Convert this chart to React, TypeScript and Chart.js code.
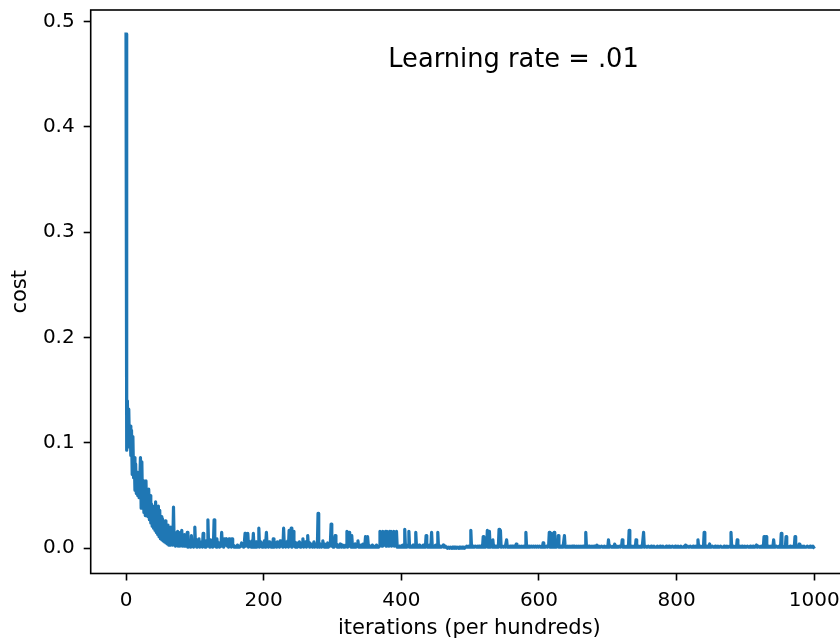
import React, { useEffect, useRef } from "react";
import { Chart, registerables } from "chart.js";

Chart.register(...registerables);

const ITERATION_TICKS = [0, 200, 400, 600, 800, 1000];
const COST_TICKS = [0, 0.1, 0.2, 0.3, 0.4, 0.5];
const X_LABEL = "iterations (per hundreds)";
const Y_LABEL = "cost";
const ANNOTATION = "Learning rate = .01";
const ANNOTATION_AT = { x: 381, y: 0.457 };

// cost recorded every hundred iterations, in thousandths
const COST_THOUSANDTHS = [
  488, 93, 140, 98, 132, 96, 116, 88, 112, 70, 106, 67, 86, 55, 80, 52, 72, 50, 68, 48,
  64, 86, 38, 82, 40, 64, 34, 60, 31, 64, 33, 54, 30, 56, 27, 50, 24, 42, 21, 40,
  19, 38, 17, 44, 15, 34, 13, 40, 11, 36, 9, 30, 8, 28, 7, 25, 6, 26, 5, 20,
  4, 22, 3, 18, 3, 20, 4, 14, 3, 39, 3, 15, 2, 12, 3, 16, 2, 9, 2, 15,
  3, 17, 2, 9, 2, 13, 2, 6, 2, 15, 1, 7, 2, 5, 1, 12, 2, 6, 1, 5,
  20, 2, 8, 1, 5, 3, 9, 1, 4, 2, 6, 1, 14, 2, 5, 1, 7, 3, 2, 27,
  2, 5, 1, 8, 3, 6, 1, 4, 27, 2, 6, 1, 9, 3, 2, 5, 1, 4, 2, 15,
  2, 6, 1, 9, 3, 5, 9, 2, 4, 1, 9, 3, 6, 1, 9, 2, 3, 1, 2, 1,
  2, 1, 3, 1, 2, 1, 2, 3, 5, 2, 4, 1, 6, 14, 2, 5, 3, 14, 1, 6,
  2, 4, 1, 7, 2, 14, 1, 5, 3, 6, 1, 4, 2, 19, 1, 6, 3, 5, 1, 4,
  2, 7, 1, 5, 15, 2, 4, 1, 6, 3, 5, 1, 3, 2, 9, 1, 4, 2, 5, 1,
  6, 2, 4, 1, 7, 3, 2, 5, 1, 19, 2, 6, 1, 4, 3, 7, 1, 17, 2, 5,
  19, 1, 4, 16, 2, 6, 1, 3, 5, 1, 4, 2, 6, 1, 3, 2, 5, 9, 1, 4,
  2, 6, 1, 3, 12, 2, 5, 1, 3, 2, 4, 1, 2, 6, 1, 3, 2, 4, 1, 33,
  3, 1, 4, 2, 1, 3, 7, 2, 1, 4, 2, 1, 3, 5, 1, 2, 4, 6, 23, 2,
  5, 1, 3, 8, 12, 2, 4, 1, 3, 2, 1, 4, 2, 1, 3, 2, 1, 2, 1, 3,
  2, 16, 1, 3, 15, 2, 4, 1, 12, 2, 3, 1, 2, 4, 1, 2, 3, 7, 1, 2,
  1, 3, 2, 1, 4, 2, 1, 3, 11, 2, 1, 11, 3, 1, 2, 1, 2, 1, 3, 1,
  2, 1, 2, 1, 3, 1, 2, 1, 2, 16, 3, 15, 2, 16, 4, 15, 3, 16, 2, 16,
  3, 15, 2, 16, 4, 16, 2, 15, 3, 16, 2, 15, 3, 16, 1, 2, 1, 2, 1, 1,
  2, 1, 3, 1, 2, 18, 1, 2, 1, 3, 2, 16, 1, 2, 1, 2, 1, 3, 1, 2,
  1, 15, 2, 1, 2, 1, 3, 1, 2, 1, 2, 1, 3, 1, 2, 1, 12, 2, 1, 2,
  1, 3, 1, 2, 15, 1, 2, 1, 2, 1, 3, 1, 2, 15, 1, 2, 1, 2, 1, 1,
  2, 3, 1, 1, 2, 1, 1, 0, 1, 1, 0, 1, 1, 0, 1, 0, 1, 1, 0, 1,
  0, 1, 1, 0, 1, 0, 1, 0, 1, 1, 0, 1, 0, 1, 1, 2, 1, 1, 2, 1,
  2, 17, 1, 2, 1, 2, 1, 1, 2, 1, 1, 2, 1, 2, 1, 1, 2, 1, 1, 11,
  1, 2, 1, 1, 2, 17, 1, 2, 16, 1, 1, 2, 1, 8, 1, 2, 1, 1, 2, 1,
  2, 1, 18, 2, 17, 1, 1, 2, 1, 1, 2, 1, 1, 8, 1, 2, 1, 1, 2, 1,
  1, 2, 1, 1, 2, 1, 1, 4, 1, 2, 1, 1, 2, 1, 1, 2, 1, 1, 2, 1,
  1, 15, 1, 2, 1, 1, 2, 1, 1, 2, 1, 1, 2, 1, 1, 2, 1, 1, 2, 1,
  1, 2, 1, 1, 2, 1, 5, 1, 2, 1, 1, 2, 1, 1, 2, 15, 1, 2, 14, 1,
  2, 1, 15, 1, 2, 1, 1, 2, 12, 1, 1, 2, 1, 1, 2, 1, 1, 12, 1, 2,
  1, 1, 2, 1, 1, 2, 1, 1, 2, 1, 1, 2, 1, 1, 1, 2, 1, 1, 2, 1,
  1, 2, 1, 1, 2, 1, 1, 1, 15, 1, 2, 1, 1, 2, 1, 1, 1, 2, 1, 1,
  2, 1, 1, 1, 3, 1, 1, 2, 1, 1, 1, 2, 1, 1, 1, 2, 1, 1, 1, 2,
  1, 8, 1, 1, 2, 1, 1, 1, 2, 1, 4, 1, 1, 2, 1, 1, 1, 2, 1, 1,
  2, 8, 1, 1, 2, 1, 1, 1, 2, 1, 1, 17, 1, 1, 2, 1, 1, 1, 2, 1,
  1, 8, 1, 1, 2, 1, 1, 1, 2, 1, 1, 1, 15, 1, 1, 2, 1, 1, 1, 2,
  1, 1, 1, 2, 1, 1, 1, 2, 1, 1, 1, 1, 2, 1, 1, 1, 2, 1, 1, 1,
  2, 1, 1, 1, 1, 2, 1, 1, 1, 2, 1, 1, 1, 1, 2, 1, 1, 1, 2, 1,
  1, 1, 2, 1, 1, 1, 2, 1, 1, 1, 1, 2, 1, 3, 1, 1, 2, 1, 1, 1,
  2, 1, 1, 1, 2, 1, 1, 1, 2, 1, 1, 8, 1, 1, 2, 1, 1, 1, 2, 1,
  15, 1, 1, 2, 1, 1, 1, 2, 4, 1, 1, 1, 2, 1, 1, 1, 2, 1, 1, 1,
  2, 1, 1, 1, 2, 1, 1, 1, 1, 2, 1, 1, 1, 2, 1, 1, 1, 2, 1, 15,
  1, 1, 2, 1, 1, 1, 2, 1, 8, 1, 1, 2, 1, 1, 1, 2, 1, 1, 1, 2,
  1, 1, 1, 2, 1, 1, 1, 2, 1, 1, 1, 2, 1, 1, 1, 1, 3, 1, 1, 2,
  1, 1, 1, 2, 1, 1, 1, 11, 1, 2, 11, 1, 1, 2, 1, 1, 1, 2, 1, 1,
  2, 8, 1, 1, 1, 2, 1, 1, 1, 2, 1, 1, 14, 1, 2, 1, 1, 1, 1, 11,
  1, 2, 1, 1, 1, 2, 1, 1, 1, 2, 1, 1, 11, 1, 1, 2, 1, 1, 4, 1,
  1, 2, 1, 1, 1, 2, 1, 1, 1, 1, 2, 1, 1, 1, 2, 1, 1, 1, 2, 1,
];

const FONT_FAMILY = "'DejaVu Sans', sans-serif";

export default function App() {
  const ref = useRef<HTMLCanvasElement | null>(null);

  useEffect(() => {
    const canvas = ref.current;
    if (!canvas) return;
    const points = COST_THOUSANDTHS.map((v, i) => ({ x: i, y: v / 1000 }));

    const framePlugin = {
      id: "frame",
      afterDraw(chart: any) {
        const { ctx, chartArea: a } = chart;
        ctx.save();
        ctx.strokeStyle = "#000";
        ctx.lineWidth = 1.6;
        ctx.strokeRect(a.left, a.top, a.right - a.left, a.bottom - a.top);
        ctx.restore();
      },
    };

    const annotationPlugin = {
      id: "annotation",
      afterDraw(chart: any) {
        const { ctx, scales } = chart;
        ctx.save();
        ctx.font = `25.7px ${FONT_FAMILY}`;
        ctx.fillStyle = "#000";
        ctx.textAlign = "left";
        ctx.textBaseline = "alphabetic";
        ctx.fillText(
          ANNOTATION,
          scales.x.getPixelForValue(ANNOTATION_AT.x),
          scales.y.getPixelForValue(ANNOTATION_AT.y)
        );
        ctx.restore();
      },
    };

    const zeroPad = (s: any) => {
      s.paddingLeft = 0;
      s.paddingRight = 0;
      s.paddingTop = 0;
      s.paddingBottom = 0;
    };

    const gridOpts = {
      display: true,
      drawOnChartArea: false,
      drawTicks: true,
      tickLength: 7,
      tickWidth: 1.6,
      tickColor: "#000",
    };

    const chart = new Chart(canvas, {
      type: "line",
      data: {
        datasets: [
          {
            data: points,
            borderColor: "#1f77b4",
            backgroundColor: "#1f77b4",
            borderWidth: 3.2,
            pointRadius: 0,
            pointHoverRadius: 0,
            fill: false,
            tension: 0,
            borderJoinStyle: "round",
            borderCapStyle: "square",
          },
        ],
      },
      options: {
        animation: false,
        responsive: false,
        devicePixelRatio: 1,
        events: [],
        layout: { autoPadding: false, padding: { left: 0, top: 10, right: 12, bottom: 0 } },
        plugins: {
          legend: { display: false },
          tooltip: { enabled: false },
        },
        scales: {
          x: {
            type: "linear",
            min: -51.3,
            max: 1049,
            afterBuildTicks: (s: any) => {
              s.ticks = ITERATION_TICKS.map((v) => ({ value: v }));
            },
            afterFit: (s: any) => {
              s.height = 67.5;
              zeroPad(s);
            },
            grid: gridOpts,
            border: { display: false },
            ticks: {
              font: { family: FONT_FAMILY, size: 20 },
              color: "#000",
              padding: 8,
              maxRotation: 0,
              autoSkip: false,
              callback: (v: any) => String(v),
            },
            title: {
              display: true,
              text: X_LABEL,
              font: { family: FONT_FAMILY, size: 21 },
              color: "#000",
              padding: { top: 0, bottom: 0 },
            },
          },
          y: {
            type: "linear",
            min: -0.024,
            max: 0.5109,
            afterBuildTicks: (s: any) => {
              s.ticks = COST_TICKS.map((v) => ({ value: v }));
            },
            afterFit: (s: any) => {
              s.width = 90.7;
              zeroPad(s);
            },
            grid: gridOpts,
            border: { display: false },
            ticks: {
              font: { family: FONT_FAMILY, size: 20 },
              color: "#000",
              padding: 9,
              autoSkip: false,
              callback: (v: any) => Number(v).toFixed(1),
            },
            title: {
              display: true,
              text: Y_LABEL,
              font: { family: FONT_FAMILY, size: 21 },
              color: "#000",
              padding: { top: 8, bottom: 0 },
            },
          },
        },
      },
      plugins: [framePlugin, annotationPlugin],
    } as any);

    return () => chart.destroy();
  }, []);

  return (
    <div
      style={{
        position: "fixed",
        left: 0,
        top: 0,
        width: 840,
        height: 641,
        overflow: "hidden",
        background: "#fff",
      }}
    >
      <canvas ref={ref} width={860} height={641} style={{ display: "block", width: 860, height: 641 }} />
    </div>
  );
}
